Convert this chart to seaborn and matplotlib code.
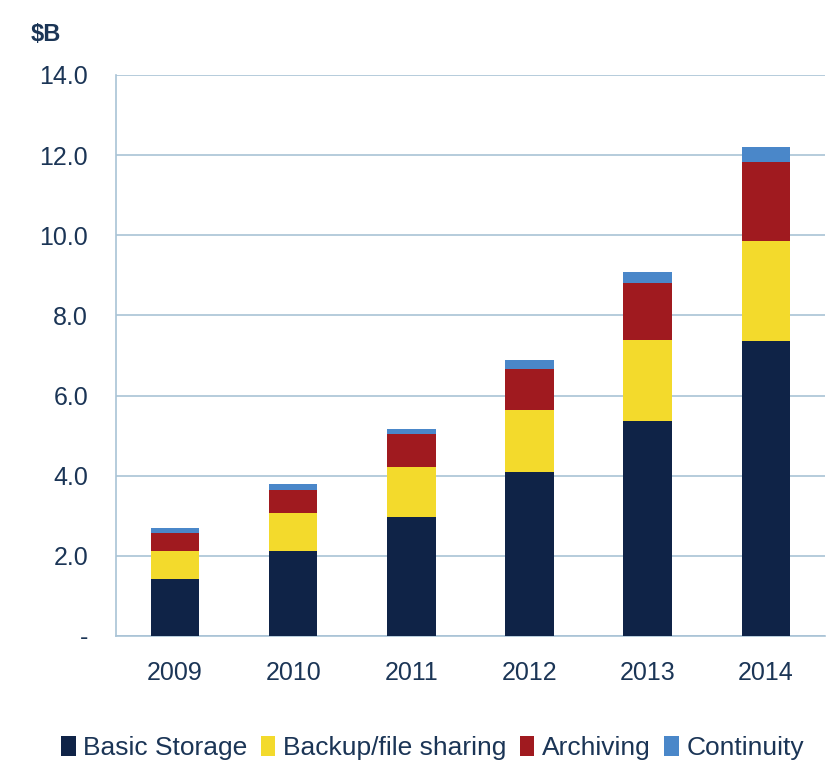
import numpy as np
import pandas as pd
import matplotlib
matplotlib.use("Agg")
import matplotlib.pyplot as plt
from matplotlib.patches import Patch
import seaborn as sns

years = ["2009", "2010", "2011", "2012", "2013", "2014"]
series = ["Basic Storage", "Backup/file sharing", "Archiving", "Continuity"]
basic_storage = [1.41, 2.11, 2.98, 4.08, 5.37, 7.36]
backup_sharing = [0.72, 0.95, 1.23, 1.56, 2.02, 2.50]
archiving = [0.45, 0.58, 0.82, 1.03, 1.43, 1.98]
continuity = [0.11, 0.15, 0.13, 0.22, 0.27, 0.37]
colors = ["#0f2347", "#f3da2c", "#a01a1f", "#4a87c9"]
y_ticks = [0, 2, 4, 6, 8, 10, 12, 14]
y_labels = ["-", "2.0", "4.0", "6.0", "8.0", "10.0", "12.0", "14.0"]

sns.set_theme(style="white")
plt.rcParams["font.family"] = ["Liberation Sans", "DejaVu Sans"]

df = pd.DataFrame({"year": years, "Basic Storage": basic_storage,
                   "Backup/file sharing": backup_sharing,
                   "Archiving": archiving, "Continuity": continuity})
cum = df[series].cumsum(axis=1)
cum["year"] = df["year"]

text_col = "#1b3556"
grid_col = "#a9c3d6"

fig = plt.figure(figsize=(8.32, 7.62), dpi=100)
ax = fig.add_axes([0.1394, 0.1654, 0.852, 0.7362])

# draw tallest stack first so lower segments sit on top
for name, col in reversed(list(zip(series, colors))):
    sns.barplot(data=cum, x="year", y=name, color=col, width=0.41,
                saturation=1, linewidth=0, ax=ax, zorder=3)

ax.set_ylim(0, 14)
ax.set_xlim(-0.5, 5.5)
ax.set_yticks(y_ticks)
ax.set_yticklabels(y_labels)
ax.set_xlabel("")
ax.set_ylabel("")
ax.yaxis.grid(True, color=grid_col, linewidth=1.2, zorder=0)
ax.set_axisbelow(True)
for s in ["top", "right"]:
    ax.spines[s].set_visible(False)
for s in ["left", "bottom"]:
    ax.spines[s].set_color(grid_col)
    ax.spines[s].set_linewidth(1.2)

ax.tick_params(axis="y", length=8, color=grid_col, width=1.2, pad=12,
               labelsize=18, labelcolor=text_col)
ax.tick_params(axis="x", which="major", length=0, pad=18,
               labelsize=18, labelcolor=text_col)
ax.set_xticks(np.arange(-0.5, 6.0, 1.0), minor=True)
ax.tick_params(axis="x", which="minor", length=8, color=grid_col, width=1.2)

fig.text(0.055, 0.955, "$B", fontsize=17, fontweight="bold", color=text_col,
         ha="center", va="center")

handles = [Patch(facecolor=c, edgecolor="none") for c in colors]
fig.legend(handles, series, loc="center", bbox_to_anchor=(0.52, 0.018),
           ncol=4, frameon=False, fontsize=19, handlelength=0.55,
           handleheight=0.75, handletextpad=0.3, columnspacing=0.5,
           labelcolor=text_col)

fig.savefig("out.png", dpi=100, facecolor="white")
